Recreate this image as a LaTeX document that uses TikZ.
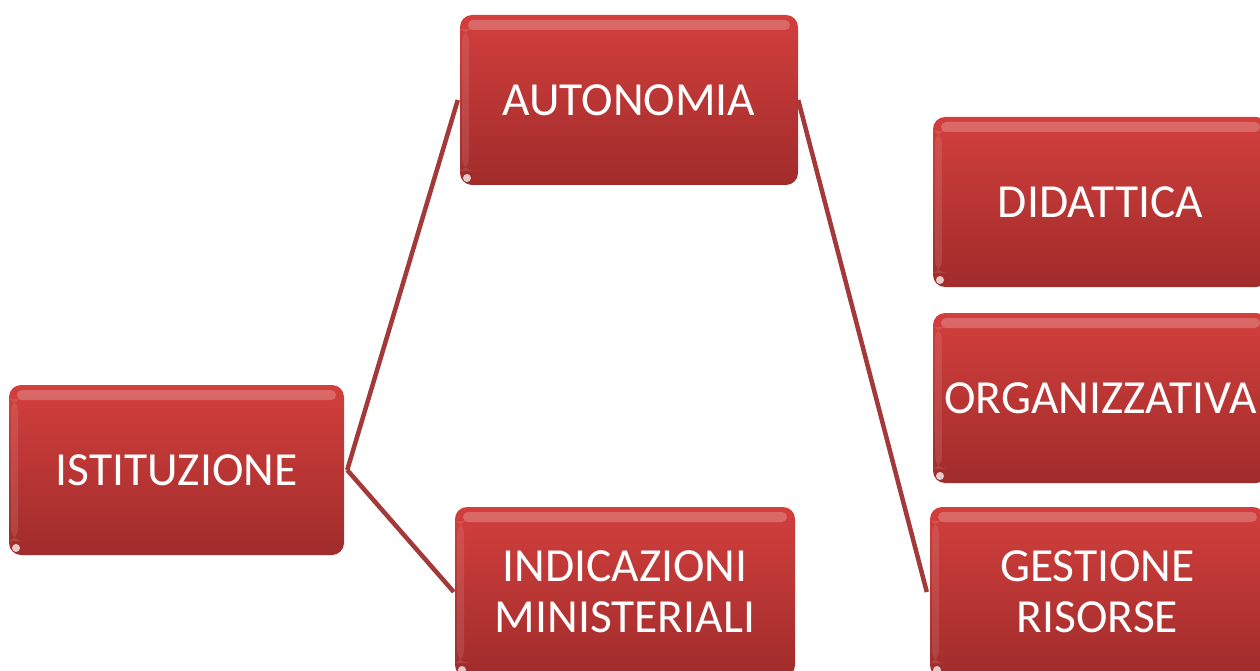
\documentclass[tikz,border=0pt]{standalone}
\usepackage{fontspec}
\setmainfont{Carlito}
\definecolor{boxtop}{HTML}{D23F3D}
\definecolor{boxbot}{HTML}{A02C2B}
\definecolor{linkcol}{HTML}{A33A39}
\begin{document}
\begin{tikzpicture}[x=1pt,y=-1pt,
  redbox/.style={rectangle, rounded corners=12pt, top color=boxtop, bottom color=boxbot,
    minimum width=335pt, minimum height=170pt, inner sep=0pt, align=center,
    text=white, font=\fontsize{47.5}{51}\selectfont,
    path picture={
      \fill[white,opacity=0.22,rounded corners=5pt]
        ([xshift=8pt,yshift=-5pt]path picture bounding box.north west) rectangle
        ([xshift=-8pt,yshift=-15pt]path picture bounding box.north east);
      \fill[white,opacity=0.10]
        ([xshift=2pt,yshift=-14pt]path picture bounding box.north west) rectangle
        ([xshift=9pt,yshift=14pt]path picture bounding box.south west);
      \fill[white,opacity=0.75]
        ([xshift=7pt,yshift=7pt]path picture bounding box.south west) circle (4pt);
    }},
  link/.style={draw=linkcol, line width=4.5pt}
]
\useasboundingbox (0,0) rectangle (1260,671);
\node[redbox] (ist) at (176.5,470) {ISTITUZIONE};
\node[redbox, minimum width=338pt] (aut) at (629,100) {AUTONOMIA};
\node[redbox, minimum width=340pt] (ind) at (625,592) {INDICAZIONI\\MINISTERIALI};
\node[redbox] (did) at (1100.5,202) {DIDATTICA};
\node[redbox] (org) at (1100.5,398) {ORGANIZZATIVA};
\node[redbox] (ges) at (1097.5,592) {GESTIONE\\RISORSE};
\draw[link] ([xshift=3pt]ist.east) -- ([xshift=-2pt]aut.west);
\draw[link] ([xshift=3pt]ist.east) -- ([xshift=-1pt]ind.west);
\draw[link] (aut.east) -- ([xshift=-3pt]ges.west);
\end{tikzpicture}
\end{document}
